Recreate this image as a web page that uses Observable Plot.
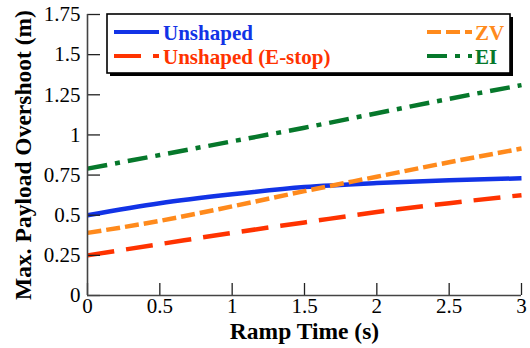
<!DOCTYPE html>
<html>
<head>
<meta charset="utf-8">
<script src="https://cdn.jsdelivr.net/npm/d3@7"></script>
<script src="https://cdn.jsdelivr.net/npm/@observablehq/plot@0.6"></script>
<style>
  html, body { margin: 0; padding: 0; background: #fff; }
  #chart { width: 530px; height: 348px; }
  #chart svg, #chart svg text, #chart svg g { font-family: "Liberation Serif", Tinos, "Times New Roman", Times, "DejaVu Serif", serif !important; }
</style>
</head>
<body>
<div id="chart"></div>
<script>
const FONT = '"Liberation Serif", Tinos, "Times New Roman", Times, "DejaVu Serif", serif';
const rampTime = [0, 0.5, 1, 1.5, 2, 2.5, 3];
const unshaped = [0.50, 0.575, 0.63, 0.675, 0.70, 0.717, 0.73];
const unshapedEstop = [0.25, 0.32, 0.39, 0.455, 0.52, 0.575, 0.625];
const zv = [0.39, 0.465, 0.555, 0.65, 0.74, 0.83, 0.915];
const ei = [0.79, 0.875, 0.96, 1.045, 1.135, 1.225, 1.31];

const seriesNames = ["Unshaped", "Unshaped (E-stop)", "ZV", "EI"];
const seriesValues = [unshaped, unshapedEstop, zv, ei];
const seriesColors = ["#1233e6", "#ff3300", "#ff8a1c", "#06782b"];
const seriesDash = [null, "27,12", "14,5", "20,8,5,8"];

const xTicks = [0, 0.5, 1, 1.5, 2, 2.5, 3];
const yTicks = [0, 0.25, 0.5, 0.75, 1, 1.25, 1.5, 1.75];
const xTitle = "Ramp Time (s)";
const yTitle = "Max. Payload Overshoot (m)";

const lineMarks = seriesNames.map((name, s) => {
  const rows = rampTime.map((t, i) => ({t, v: seriesValues[s][i]}));
  return Plot.line(rows, {
    x: "t", y: "v", stroke: seriesColors[s], strokeWidth: 4.5,
    strokeDasharray: seriesDash[s], curve: "monotone-x", strokeLinecap: "butt"
  });
});

const chart = Plot.plot({
  width: 530,
  height: 348,
  marginLeft: 87,
  marginRight: 9,
  marginTop: 14,
  marginBottom: 53,
  style: {background: "#fff", color: "#000", fontFamily: FONT},
  x: {domain: [0, 3]},
  y: {domain: [0, 1.75]},
  marks: [
    ...lineMarks,
    Plot.axisX({ticks: xTicks, tickSize: -12, tickPadding: 15, fontSize: 21, fontFamily: FONT, label: null, stroke: "#222", strokeWidth: 1.3, tickFormat: d => String(d)}),
    Plot.axisY({ticks: yTicks, tickSize: -13, tickPadding: 20, fontSize: 21, fontFamily: FONT, label: null, stroke: "#222", strokeWidth: 1.3, tickFormat: d => String(d)}),
    Plot.ruleX([0], {stroke: "#444", strokeWidth: 1.6}),
    Plot.ruleY([0], {stroke: "#444", strokeWidth: 1.6}),
    Plot.text([xTitle], {frameAnchor: "bottom", textAnchor: "middle", lineAnchor: "bottom", dy: 43, fontSize: 23.5, fontWeight: "bold", fontFamily: FONT, fill: "#000"}),
    Plot.text([yTitle], {frameAnchor: "left", textAnchor: "middle", lineAnchor: "middle", dx: -64, rotate: -90, fontSize: 23.5, fontWeight: "bold", fontFamily: FONT, fill: "#000"})
  ]
});

document.getElementById("chart").appendChild(chart);

// Legend inside the plot area
const svg = d3.select(chart);
const lg = svg.append("g").attr("class", "legend");
lg.append("rect").attr("x", 110).attr("y", 17).attr("width", 403).attr("height", 59).attr("fill", "#000");
lg.append("rect").attr("x", 107).attr("y", 14).attr("width", 403).attr("height", 59)
  .attr("fill", "#fff").attr("stroke", "#000").attr("stroke-width", 1.6);
const legendPos = [
  {lx: 114, tx: 163, ly: 32, ty: 40},
  {lx: 114, tx: 163, ly: 56, ty: 64},
  {lx: 427, tx: 475, ly: 32, ty: 40},
  {lx: 427, tx: 475, ly: 56, ty: 64}
];
seriesNames.forEach((name, s) => {
  const p = legendPos[s];
  lg.append("line").attr("x1", p.lx).attr("x2", p.lx + 45).attr("y1", p.ly).attr("y2", p.ly)
    .attr("stroke", seriesColors[s]).attr("stroke-width", 4)
    .attr("stroke-dasharray", seriesDash[s]);
  lg.append("text").attr("x", p.tx).attr("y", p.ty).text(name)
    .attr("text-anchor", "start")
    .attr("fill", seriesColors[s]).attr("font-weight", "bold").attr("font-size", 21)
    .attr("font-family", FONT);
});
</script>
</body>
</html>
